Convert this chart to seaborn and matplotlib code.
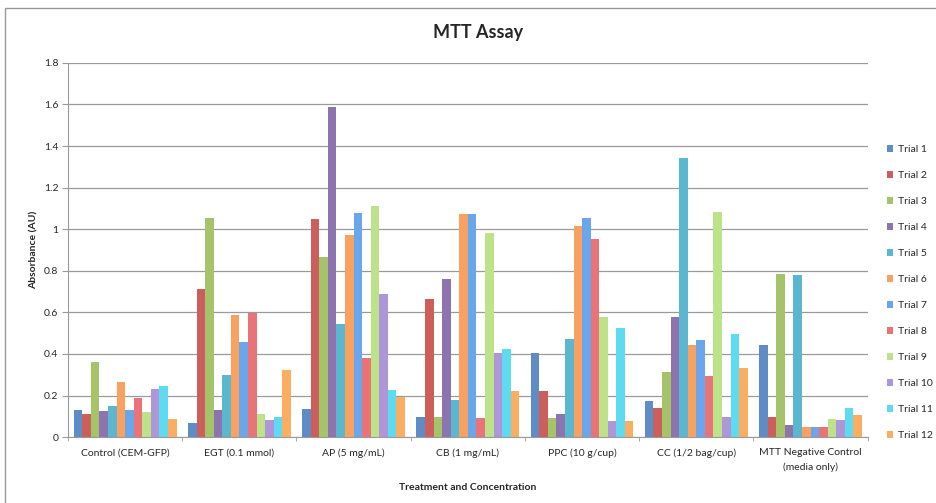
import pandas as pd
import numpy as np
import seaborn as sns
import matplotlib.pyplot as plt
from matplotlib.patches import Rectangle

treatments = ['Control (CEM-GFP)', 'EGT (0.1 mmol)', 'AP (5 mg/mL)', 'CB (1 mg/mL)',
              'PPC (10 g/cup)', 'CC (1/2 bag/cup)', 'MTT Negative Control\n(media only)']
trials = ['Trial %d' % i for i in range(1, 13)]

control = [0.128, 0.112, 0.36, 0.126, 0.152, 0.266, 0.131, 0.186, 0.122, 0.232, 0.245, 0.088]
egt = [0.069, 0.714, 1.055, 0.128, 0.30, 0.589, 0.456, 0.597, 0.11, 0.083, 0.096, 0.323]
ap = [0.136, 1.048, 0.864, 1.587, 0.544, 0.973, 1.077, 0.379, 1.112, 0.688, 0.227, 0.195]
cb = [0.099, 0.664, 0.098, 0.76, 0.179, 1.072, 1.072, 0.091, 0.984, 0.403, 0.426, 0.221]
ppc = [0.405, 0.221, 0.094, 0.112, 0.472, 1.016, 1.056, 0.954, 0.578, 0.077, 0.525, 0.077]
cc = [0.173, 0.138, 0.314, 0.578, 1.344, 0.445, 0.469, 0.293, 1.084, 0.099, 0.498, 0.333]
mtt_neg = [0.442, 0.096, 0.786, 0.058, 0.779, 0.051, 0.051, 0.051, 0.085, 0.082, 0.138, 0.104]

colors = ['#5D8CC6', '#CC5F5C', '#A5C46A', '#8D74AE', '#5AB7CF', '#F8A160',
          '#6AA6EB', '#EA7377', '#BCE389', '#AE96D8', '#5EDAF1', '#FBAE62']

yticks = [0, 0.2, 0.4, 0.6, 0.8, 1.0, 1.2, 1.4, 1.6, 1.8]
ytick_labels = ['0', '0.2', '0.4', '0.6', '0.8', '1', '1.2', '1.4', '1.6', '1.8']

rows = []
for name, vals in zip(treatments, [control, egt, ap, cb, ppc, cc, mtt_neg]):
    for t, v in zip(trials, vals):
        rows.append({'Treatment': name, 'Trial': t, 'Absorbance': v})
df = pd.DataFrame(rows)

sns.set_style('white')
plt.rcParams['font.family'] = ['Lato', 'DejaVu Sans']

fig = plt.figure(figsize=(9.37, 5.03), dpi=100)
ax = fig.add_axes([0.0726, 0.131, 0.8534, 0.744])

sns.barplot(data=df, x='Treatment', y='Absorbance', hue='Trial', order=treatments,
            hue_order=trials, palette=colors, width=0.9, ax=ax, saturation=1,
            edgecolor='none')

ax.set_ylim(0, 1.8)
ax.set_xlim(-0.5, len(treatments) - 0.5)
ax.set_yticks(yticks)
ax.set_yticklabels(ytick_labels, fontsize=7.5)
ax.yaxis.grid(True, color='#9a9a9a', linewidth=0.9)
ax.set_axisbelow(True)
for s in ['top', 'right']:
    ax.spines[s].set_visible(False)
ax.spines['left'].set_color('#9a9a9a')
ax.spines['bottom'].set_color('#9a9a9a')
ax.tick_params(axis='y', which='both', left=True, length=4, color='#9a9a9a', pad=3)
ax.tick_params(axis='x', which='major', length=0, labelsize=7.5, pad=8)
for lbl in ax.get_xticklabels():
    lbl.set_linespacing(1.7)
ax.set_xticks(np.arange(-0.5, len(treatments)), minor=True)
ax.tick_params(axis='x', which='minor', bottom=True, length=3, color='#9a9a9a')

ax.set_title('MTT Assay', fontsize=13, fontweight='bold', pad=18, x=0.5125)
ax.set_xlabel('Treatment and Concentration', fontsize=7.5, fontweight='bold', labelpad=8)
ax.set_ylabel('Absorbance (AU)', fontsize=7.5, fontweight='bold', labelpad=4)

ax.legend(loc='upper left', bbox_to_anchor=(1.012, 0.805), frameon=False, fontsize=7.5,
          handlelength=0.6, handleheight=0.6, handletextpad=0.5, labelspacing=1.63)

fig.patches.append(Rectangle((5 / 937, -0.1), 1.2, 1 - 8 / 503 + 0.1,
                             transform=fig.transFigure, fill=False,
                             edgecolor='#9a9a9a', linewidth=1))

fig.savefig('out.png', dpi=100)
